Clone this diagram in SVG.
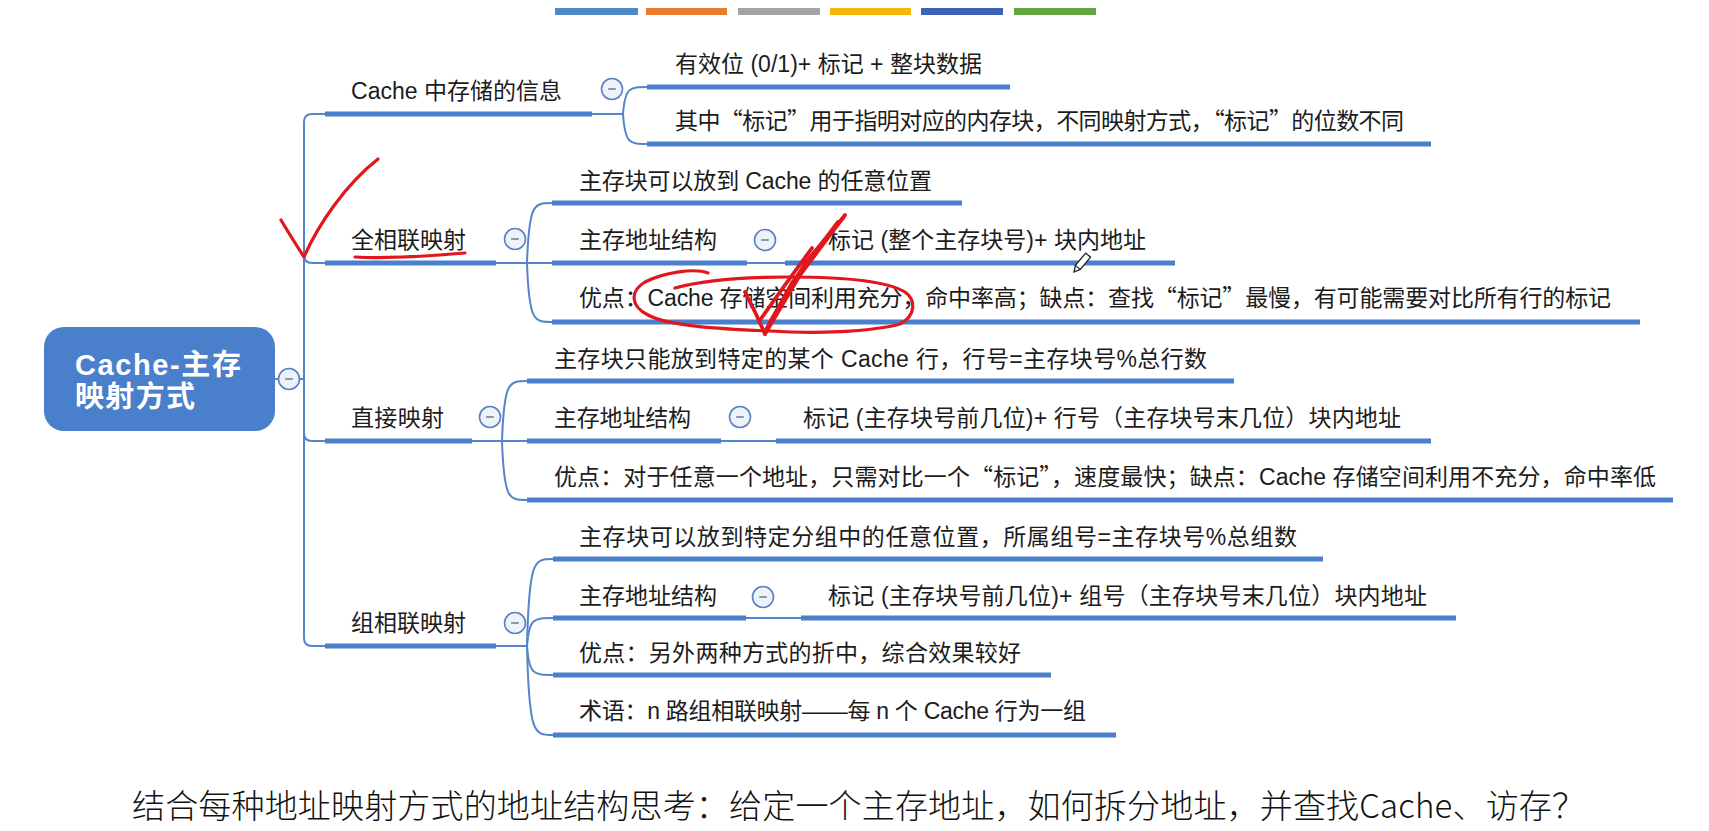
<svg xmlns="http://www.w3.org/2000/svg" xmlns:xlink="http://www.w3.org/1999/xlink" width="1709" height="831" viewBox="0 0 1709 831">
<style>
.t{font-family:"Liberation Sans","Noto Sans CJK SC",sans-serif;font-size:23px;fill:#1c1c1c}
.q{font-family:"Noto Sans CJK SC",sans-serif}
.bar{stroke:#4a7fcb;stroke-width:5;fill:none}
.ln{fill:none;stroke:#5484c9;stroke-width:2}
.btn circle{fill:#eef2f9;stroke:#5a80c2;stroke-width:1.6}
.btn line{stroke:#7d8daa;stroke-width:1.8}
.red{fill:none;stroke:#e2161d;stroke-width:3.2;stroke-linecap:round;stroke-linejoin:round}
.redb{fill:none;stroke:#e2161d;stroke-width:3.8;stroke-linecap:round;stroke-linejoin:round}
.root{font-family:"Liberation Sans","Noto Sans CJK SC",sans-serif;font-size:29px;font-weight:bold;fill:#ffffff}
.cap{font-family:"Noto Sans CJK SC",sans-serif;font-size:33px;font-weight:300;fill:#111}
</style>
<defs>
<g id="btn" class="btn"><circle r="10.5"/><line x1="-3.8" y1="0" x2="3.8" y2="0"/></g>
</defs>
<rect width="1709" height="831" fill="#ffffff"/>

<g id="topbars">
<rect x="555" y="8" width="83" height="7" fill="#4f87c9"/>
<rect x="646" y="8" width="81" height="7" fill="#e97a2e"/>
<rect x="738" y="8" width="82" height="7" fill="#a3a3a3"/>
<rect x="830" y="8" width="81" height="7" fill="#f5b50a"/>
<rect x="921" y="8" width="82" height="7" fill="#3c63b5"/>
<rect x="1014" y="8" width="82" height="7" fill="#62a53e"/>
</g>

<g id="connectors">
<path class="ln" d="M275,379 L304,379"/>
<path class="ln" d="M304,379 L304,122 Q304,114 312,114 L325,114"/>
<path class="ln" d="M304,379 L304,255 Q304,263 312,263 L325,263"/>
<path class="ln" d="M304,379 L304,433 Q304,441 312,441 L325,441"/>
<path class="ln" d="M304,379 L304,638 Q304,646 312,646 L325,646"/>
<path class="ln" d="M592,114 L623,114 C625,87 630,87 647,87"/>
<path class="ln" d="M623,114 C625,144 630,144 647,144"/>
<path class="ln" d="M496,263 L552,263"/>
<path class="ln" d="M527,263 C529,203 534,203 552,203"/>
<path class="ln" d="M527,263 C529,322 534,322 552,322"/>
<path class="ln" d="M747,263 L785,263"/>
<path class="ln" d="M472,441 L527,441"/>
<path class="ln" d="M502,441 C504,381 509,381 527,381"/>
<path class="ln" d="M502,441 C504,500 509,500 527,500"/>
<path class="ln" d="M721,441 L776,441"/>
<path class="ln" d="M496,646 L527,646"/>
<path class="ln" d="M527,646 C529,559 534,559 553,559"/>
<path class="ln" d="M527,646 C529,618 534,618 553,618"/>
<path class="ln" d="M527,646 C529,675 534,675 553,675"/>
<path class="ln" d="M527,646 C529,735 534,735 553,735"/>
<path class="ln" d="M746,618 L801,618"/>
</g>

<g id="root">
<rect x="44" y="327" width="231" height="104" rx="20" fill="#4a7fcc"/>
<text class="root" x="75" y="375" textLength="166" lengthAdjust="spacing">Cache-主存</text>
<text class="root" x="75" y="407" textLength="120" lengthAdjust="spacing">映射方式</text>
<use xlink:href="#btn" x="289" y="379"/>
</g>

<g id="n-cacheinfo">
<text class="t" x="351" y="99" textLength="211" lengthAdjust="spacing">Cache 中存储的信息</text>
<line class="bar" x1="325" y1="114" x2="592" y2="114"/>
<use xlink:href="#btn" x="612" y="89"/>
</g>
<g id="n-valid">
<text class="t" x="675" y="72" textLength="307" lengthAdjust="spacing">有效位 (0/1)+ 标记 + 整块数据</text>
<line class="bar" x1="647" y1="87" x2="1010" y2="87"/>
</g>
<g id="n-tagnote">
<text class="t" x="675" y="129" textLength="729" lengthAdjust="spacing">其中<tspan class="q">“</tspan>标记<tspan class="q">”</tspan>用于指明对应的内存块，不同映射方式，<tspan class="q">“</tspan>标记<tspan class="q">”</tspan>的位数不同</text>
<line class="bar" x1="647" y1="144" x2="1431" y2="144"/>
</g>

<g id="n-full">
<text class="t" x="351" y="248" textLength="115" lengthAdjust="spacing">全相联映射</text>
<line class="bar" x1="325" y1="263" x2="496" y2="263"/>
<use xlink:href="#btn" x="515" y="239"/>
</g>
<g id="n-full-1">
<text class="t" x="579" y="189" textLength="353" lengthAdjust="spacing">主存块可以放到 Cache 的任意位置</text>
<line class="bar" x1="552" y1="203" x2="962" y2="203"/>
</g>
<g id="n-full-2">
<text class="t" x="579" y="248" textLength="138" lengthAdjust="spacing">主存地址结构</text>
<line class="bar" x1="552" y1="263" x2="747" y2="263"/>
<use xlink:href="#btn" x="765" y="240"/>
</g>
<g id="n-full-2a">
<text class="t" x="828" y="248" textLength="318" lengthAdjust="spacing">标记 (整个主存块号)+ 块内地址</text>
<line class="bar" x1="785" y1="263" x2="1175" y2="263"/>
</g>
<g id="n-full-3">
<text class="t" x="579" y="306" textLength="1032" lengthAdjust="spacing">优点：Cache 存储空间利用充分，命中率高；缺点：查找<tspan class="q">“</tspan>标记<tspan class="q">”</tspan>最慢，有可能需要对比所有行的标记</text>
<line class="bar" x1="552" y1="322" x2="1640" y2="322"/>
</g>

<g id="n-direct">
<text class="t" x="351" y="426" textLength="93" lengthAdjust="spacing">直接映射</text>
<line class="bar" x1="325" y1="441" x2="472" y2="441"/>
<use xlink:href="#btn" x="490" y="417"/>
</g>
<g id="n-direct-1">
<text class="t" x="554" y="367" textLength="653" lengthAdjust="spacing">主存块只能放到特定的某个 Cache 行，行号=主存块号%总行数</text>
<line class="bar" x1="527" y1="381" x2="1234" y2="381"/>
</g>
<g id="n-direct-2">
<text class="t" x="554" y="426" textLength="137" lengthAdjust="spacing">主存地址结构</text>
<line class="bar" x1="527" y1="441" x2="721" y2="441"/>
<use xlink:href="#btn" x="740" y="417"/>
</g>
<g id="n-direct-2a">
<text class="t" x="803" y="426" textLength="598" lengthAdjust="spacing">标记 (主存块号前几位)+ 行号（主存块号末几位）块内地址</text>
<line class="bar" x1="776" y1="441" x2="1431" y2="441"/>
</g>
<g id="n-direct-3">
<text class="t" x="554" y="485" textLength="1102" lengthAdjust="spacing">优点：对于任意一个地址，只需对比一个<tspan class="q">“</tspan>标记<tspan class="q">”</tspan>，速度最快；缺点：Cache 存储空间利用不充分，命中率低</text>
<line class="bar" x1="527" y1="500" x2="1673" y2="500"/>
</g>

<g id="n-set">
<text class="t" x="351" y="631" textLength="115" lengthAdjust="spacing">组相联映射</text>
<line class="bar" x1="325" y1="646" x2="496" y2="646"/>
<use xlink:href="#btn" x="515" y="623"/>
</g>
<g id="n-set-1">
<text class="t" x="579" y="545" textLength="718" lengthAdjust="spacing">主存块可以放到特定分组中的任意位置，所属组号=主存块号%总组数</text>
<line class="bar" x1="553" y1="559" x2="1323" y2="559"/>
</g>
<g id="n-set-2">
<text class="t" x="579" y="604" textLength="138" lengthAdjust="spacing">主存地址结构</text>
<line class="bar" x1="553" y1="618" x2="746" y2="618"/>
<use xlink:href="#btn" x="763" y="597"/>
</g>
<g id="n-set-2a">
<text class="t" x="828" y="604" textLength="599" lengthAdjust="spacing">标记 (主存块号前几位)+ 组号（主存块号末几位）块内地址</text>
<line class="bar" x1="801" y1="618" x2="1456" y2="618"/>
</g>
<g id="n-set-3">
<text class="t" x="579" y="661" textLength="442" lengthAdjust="spacing">优点：另外两种方式的折中，综合效果较好</text>
<line class="bar" x1="553" y1="675" x2="1051" y2="675"/>
</g>
<g id="n-set-4">
<text class="t" x="579" y="719" textLength="507" lengthAdjust="spacing">术语：n 路组相联映射——每 n 个 Cache 行为一组</text>
<line class="bar" x1="553" y1="735" x2="1116" y2="735"/>
</g>

<g id="caption">
<text class="cap" x="132" y="818" textLength="1453" lengthAdjust="spacing">结合每种地址映射方式的地址结构思考：给定一个主存地址，如何拆分地址，并查找Cache、访存？</text>
</g>

<g id="annotations">
<path class="red" d="M281,220 C288,232 297,246 304,257 C318,225 345,185 378,159"/>
<path class="red" d="M355,257 C390,259 430,256 465,253"/>
<path class="red" d="M708,273 C695,268 665,272 645,282 C630,291 630,306 648,315 C668,326 720,329 770,331 C815,334 870,332 900,324 C916,316 916,300 905,292 C885,280 840,277 790,277 C740,277 700,281 675,288"/>
<path class="redb" d="M745,292 L756,314 L765,334"/>
<path class="redb" d="M765,334 L800,275 L845,215"/>
<path class="redb" d="M766,330 L792,283 L838,222"/>
<path class="redb" d="M770,322 L806,262 L843,218"/>
<path class="redb" d="M760,320 L785,285 L812,248"/>
<g transform="translate(1074,272) rotate(-50)">
<path d="M0,0 L6,-3.2 L22,-3.2 L22,3.2 L6,3.2 Z" fill="#ffffff" stroke="#222222" stroke-width="1.3"/>
<line x1="6" y1="-3.2" x2="6" y2="3.2" stroke="#222222" stroke-width="1.1"/>
</g>
</g>
</svg>
